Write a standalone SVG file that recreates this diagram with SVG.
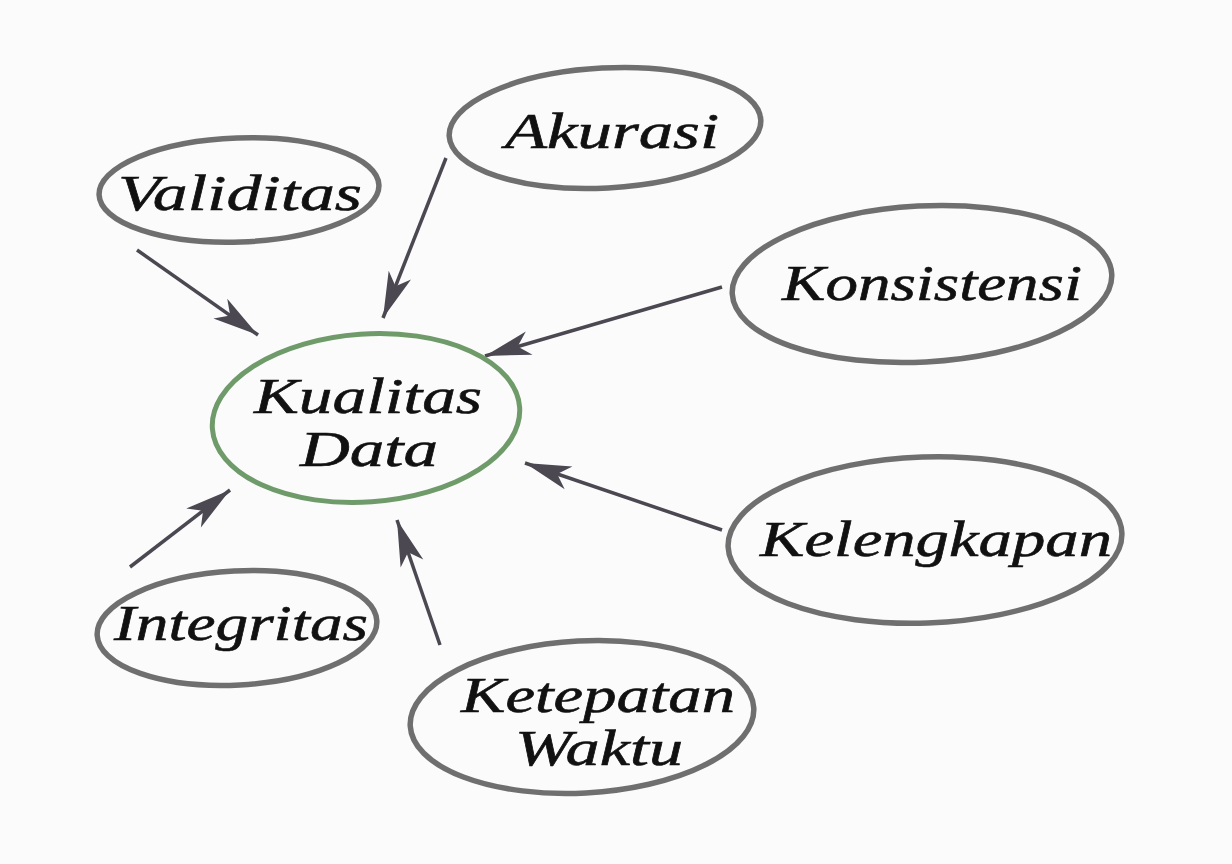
<svg xmlns="http://www.w3.org/2000/svg" width="1232" height="864" viewBox="0 0 1232 864">
<defs>
<style>
.oval{fill:none;stroke:#6f6f6f;stroke-width:5.5;stroke-linecap:round}
.green{fill:none;stroke:#6f9a6a;stroke-width:5;stroke-linecap:round}
.lbl{font-family:"Liberation Serif","DejaVu Serif",serif;font-style:italic;font-size:50px;fill:#111;text-anchor:middle;stroke:#111;stroke-width:0.6}
.arr{stroke:#4b4852;stroke-width:3.5;fill:none;marker-end:url(#head)}
</style>
<marker id="head" markerUnits="userSpaceOnUse" markerWidth="52" markerHeight="30" viewBox="-48 -15 50 30" refX="0" refY="0" orient="auto">
<path d="M0,0 L-46,-12 L-34,0 L-46,12 Z" fill="#4b4852"/>
</marker>
</defs>
<rect width="1232" height="864" fill="#fbfbfb"/>
<g id="connectors">
<line class="arr" x1="137" y1="250" x2="258" y2="335"/>
<line class="arr" x1="446" y1="158" x2="383" y2="318"/>
<line class="arr" x1="722" y1="287" x2="485" y2="356"/>
<line class="arr" x1="722" y1="530" x2="525" y2="463"/>
<line class="arr" x1="440" y1="645" x2="397" y2="520"/>
<line class="arr" x1="130" y1="567" x2="230" y2="490"/>
</g>
<g id="validitas">
<ellipse class="oval" cx="239" cy="190" rx="140" ry="52" transform="rotate(-2 239 190)"/>
<text class="lbl" x="240" y="210" textLength="244" lengthAdjust="spacingAndGlyphs">Validitas</text>
</g>
<g id="akurasi">
<ellipse class="oval" cx="605" cy="128" rx="156" ry="60" transform="rotate(-3 605 128)"/>
<text class="lbl" x="612" y="148" textLength="214" lengthAdjust="spacingAndGlyphs">Akurasi</text>
</g>
<g id="konsistensi">
<ellipse class="oval" cx="922" cy="284" rx="190" ry="78" transform="rotate(-3 922 284)"/>
<text class="lbl" x="932" y="300" textLength="300" lengthAdjust="spacingAndGlyphs">Konsistensi</text>
</g>
<g id="kualitas-data">
<ellipse class="green" cx="366" cy="418" rx="154" ry="84" transform="rotate(-4 366 418)"/>
<text class="lbl" x="368" y="413" textLength="228" lengthAdjust="spacingAndGlyphs">Kualitas</text>
<text class="lbl" x="369" y="466" textLength="138" lengthAdjust="spacingAndGlyphs">Data</text>
</g>
<g id="kelengkapan">
<ellipse class="oval" cx="925" cy="540" rx="197" ry="83" transform="rotate(-2 925 540)"/>
<text class="lbl" x="936" y="556" textLength="352" lengthAdjust="spacingAndGlyphs">Kelengkapan</text>
</g>
<g id="integritas">
<ellipse class="oval" cx="237" cy="628" rx="140" ry="57" transform="rotate(-3 237 628)"/>
<text class="lbl" x="241" y="640" textLength="254" lengthAdjust="spacingAndGlyphs">Integritas</text>
</g>
<g id="ketepatan-waktu">
<ellipse class="oval" cx="582" cy="717" rx="172" ry="76" transform="rotate(-3 582 717)"/>
<text class="lbl" x="598" y="712" textLength="274" lengthAdjust="spacingAndGlyphs">Ketepatan</text>
<text class="lbl" x="599" y="765" textLength="168" lengthAdjust="spacingAndGlyphs">Waktu</text>
</g>
</svg>
